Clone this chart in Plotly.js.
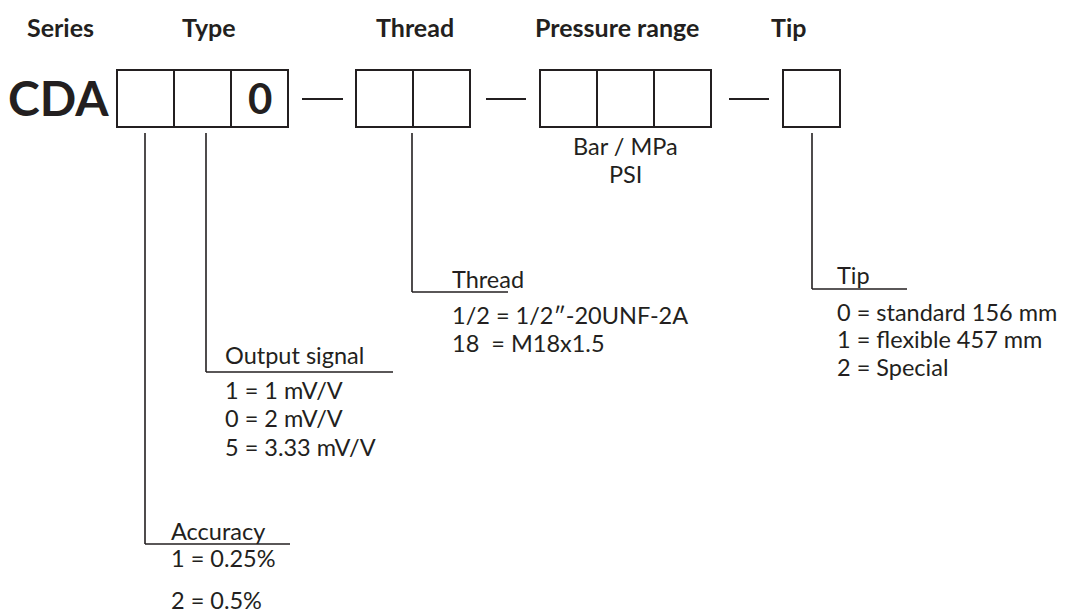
<!DOCTYPE html>
<html>
<head>
<meta charset="utf-8">
<script src="https://cdn.plot.ly/plotly-3.0.1.min.js"></script>
<style>html,body{margin:0;padding:0;background:#fff;}#chart{width:1072px;height:613px;}</style>
</head>
<body>
<div id="chart"></div>
<script>
// ---- content ----
const headers = ['Series', 'Type', 'Thread', 'Pressure range', 'Tip'];
const seriesCode = 'CDA';
const cellCounts = [3, 2, 3, 1];
const fixedDigit = '0';
const unitLines = ['Bar / MPa', 'PSI'];
const accuracyTitle = 'Accuracy';
const accuracyOptions = ['1 = 0.25%', '2 = 0.5%'];
const outputTitle = 'Output signal';
const outputOptions = ['1 = 1 mV/V', '0 = 2 mV/V', '5 = 3.33 mV/V'];
const threadTitle = 'Thread';
const threadOptions = ['1/2 = 1/2\u2033-20UNF-2A', '18  = M18x1.5'];
const tipTitle = 'Tip';
const tipOptions = ['0 = standard 156 mm', '1 = flexible 457 mm', '2 = Special'];

// ---- geometry (layout only) ----
const INK = '#231f20';
const headerX = [60, 209, 415, 617, 788];
const headerY = 27;
const groupLeft = [117, 356, 540, 783];
const cellW = 57;
const boxTop = 70, boxBot = 127;
const dashes = [[302, 343], [486, 526], [729, 769]];
const dashY = 99;
const leaderTop = 133;
const legends = [
  {x: 145, yc: 544, xr: 290, tx: 169, ty: 531, oy: [558, 600], title: accuracyTitle, opts: accuracyOptions},
  {x: 206, yc: 372, xr: 393, tx: 223, ty: 355, oy: [390, 418, 447], title: outputTitle, opts: outputOptions},
  {x: 412, yc: 292, xr: 508, tx: 450, ty: 279, oy: [315, 343], title: threadTitle, opts: threadOptions},
  {x: 812, yc: 289, xr: 907, tx: 835, ty: 275, oy: [312, 339, 367], title: tipTitle, opts: tipOptions}
];

const shapes = [];
const annotations = [];
const bodyFont = {family: 'Lato, "Open Sans", sans-serif', size: 23.5, color: INK};

headers.forEach((h, i) => {
  annotations.push({x: headerX[i], y: headerY, text: '<b>' + h + '</b>', showarrow: false,
    xanchor: 'center', yanchor: 'middle', font: {family: 'Lato, sans-serif', size: 25, color: INK}});
});
annotations.push({x: 58, y: 97, text: '<b>' + seriesCode + '</b>', showarrow: false,
  xanchor: 'center', yanchor: 'middle', font: {family: 'Lato, sans-serif', size: 48, color: INK}});

cellCounts.forEach((n, g) => {
  for (let k = 0; k < n; k++) {
    const x0 = groupLeft[g] + k * cellW;
    shapes.push({type: 'rect', xref: 'x', yref: 'y', x0: x0, x1: x0 + cellW, y0: boxTop, y1: boxBot,
      line: {color: INK, width: 2}, fillcolor: 'rgba(0,0,0,0)'});
  }
});
annotations.push({x: groupLeft[0] + 2.5 * cellW, y: 98, text: '<b>' + fixedDigit + '</b>', showarrow: false,
  xanchor: 'center', yanchor: 'middle', font: {family: 'Lato, sans-serif', size: 42, color: INK}});

dashes.forEach(d => shapes.push({type: 'line', x0: d[0], x1: d[1], y0: dashY, y1: dashY, line: {color: INK, width: 2}}));

unitLines.forEach((t, i) => {
  annotations.push({x: groupLeft[2] + 1.5 * cellW, y: [146, 174][i], text: t, showarrow: false,
    xanchor: 'center', yanchor: 'middle', font: bodyFont});
});

legends.forEach(L => {
  shapes.push({type: 'line', x0: L.x, x1: L.x, y0: leaderTop, y1: L.yc, line: {color: INK, width: 1.6}});
  shapes.push({type: 'line', x0: L.x, x1: L.xr, y0: L.yc, y1: L.yc, line: {color: INK, width: 1.6}});
  annotations.push({x: L.tx, y: L.ty, text: L.title, showarrow: false, xanchor: 'left', yanchor: 'middle', font: bodyFont});
  L.opts.forEach((o, i) => annotations.push({x: L.tx, y: L.oy[i], text: o, showarrow: false,
    xanchor: 'left', yanchor: 'middle', font: bodyFont}));
});

const layout = {
  width: 1072, height: 613,
  margin: {l: 0, r: 0, t: 0, b: 0},
  paper_bgcolor: '#fff', plot_bgcolor: '#fff',
  xaxis: {range: [0, 1072], visible: false, fixedrange: true},
  yaxis: {range: [613, 0], visible: false, fixedrange: true},
  shapes: shapes,
  annotations: annotations,
  showlegend: false
};
Plotly.newPlot('chart', [{x: [], y: [], type: 'scatter', mode: 'markers', hoverinfo: 'skip'}], layout, {staticPlot: true, displayModeBar: false});
</script>
</body>
</html>
